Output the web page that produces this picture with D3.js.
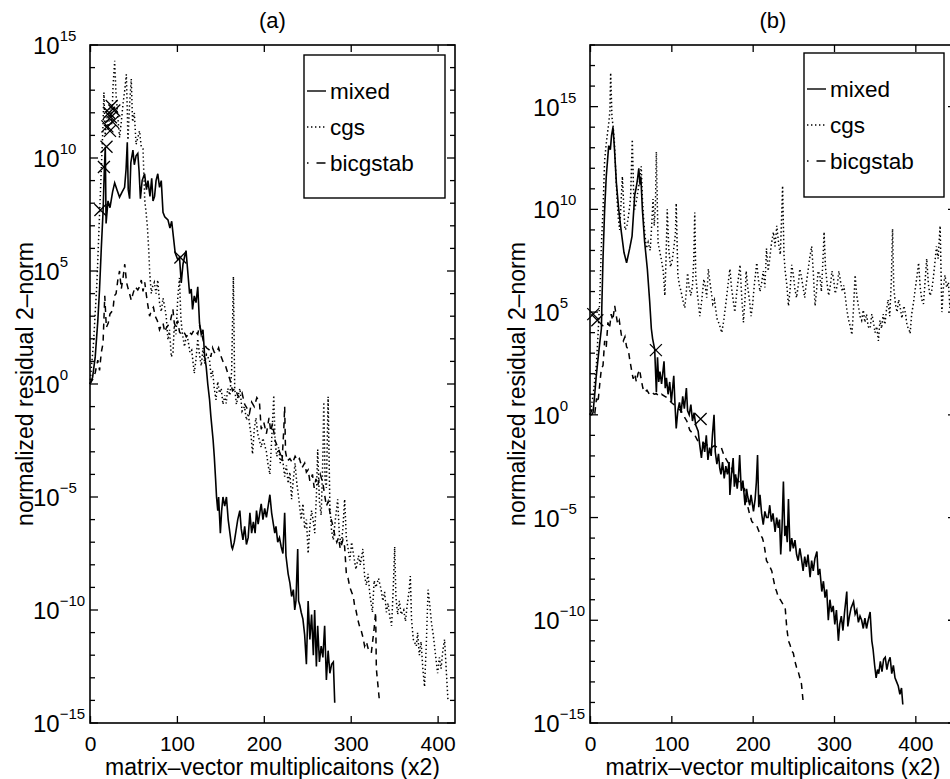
<!DOCTYPE html>
<html>
<head>
<meta charset="utf-8">
<script src="https://cdn.jsdelivr.net/npm/d3@7"></script>
<style>
  body { margin: 0; background: #fff; }
  svg { display: block; }
  text { font-family: "Liberation Sans", Arial, Helvetica, sans-serif; fill: #000; }
</style>
</head>
<body>
<svg id="chart" width="950" height="779"></svg>
<script>
// each point: [matrix-vector products (x2), log10 of normalized residual 2-norm]

// panel (a)
var mixedA = [[0,0],[3,0.3],[6,1.2],[9,2.8],[11,4.2],[13,6.0],[15,7.6],[16.5,9.5],[17.6,10.5],[18.5,7.1],[20.7,8.1],[23,7.8],[26,8.5],[28.4,8.9],[31,8.6],[34,8.27],[37,8.5],[39.8,8.7],[41.5,9.5],[42.9,10.7],[44,8.6],[45.6,8.2],[47,9.8],[49.4,10.35],[51,9.7],[53,10.1],[55,10.2],[56.5,9.4],[58,8.2],[60,9.0],[62.8,9.3],[65,8.6],[66.7,9.0],[69,8.3],[71,9.1],[72.5,8.1],[74.3,8.3],[76,9.0],[78,9.3],[80,8.7],[82,9.0],[84,7.6],[86,7.4],[89.7,7.26],[92,6.9],[94,7.2],[96,6.5],[98,5.8],[101,5.5],[103,5.6],[105,4.47],[107,5.3],[108.8,5.63],[110.5,5.9],[112,5.2],[114.6,4.0],[116.5,4.2],[118,3.3],[120,3.9],[122,3.6],[124,4.3],[126,2.7],[128,2.2],[130,2.4],[132,1.2],[133.7,0.77],[135.5,0.0],[137.6,-0.7],[139,-1.4],[141.7,-2.5],[143,-3.2],[144.5,-4.2],[145.6,-5.0],[147,-5.6],[148,-5.0],[150,-6.6],[151.5,-5.6],[153,-5.0],[155,-5.4],[157,-5.0],[159,-6.0],[161,-6.6],[163,-7.2],[164,-7.3],[166,-7.0],[168,-6.5],[170,-6.0],[172.4,-5.6],[174,-6.4],[176,-6.9],[178,-6.3],[180,-7.1],[182,-6.8],[184,-5.7],[186,-6.6],[188,-6.1],[190,-6.6],[191.6,-5.6],[193.5,-6.2],[195,-5.8],[197,-5.3],[199,-6.0],[201,-5.5],[203,-5.9],[205,-5.4],[207,-4.9],[209,-5.7],[211,-6.2],[212.6,-6.6],[214,-6.3],[216,-7.0],[218,-6.8],[220,-7.2],[222,-7.5],[224,-5.7],[225.5,-7.6],[228,-8.4],[230,-8.8],[232,-9.4],[234,-9.1],[235.6,-10.0],[237,-9.6],[239,-7.3],[240,-9.6],[241.5,-9.8],[243,-10.1],[245,-10.4],[247,-11.1],[249,-12.4],[251,-9.6],[253,-11.3],[255,-10.2],[257,-12.0],[258.5,-10.0],[260.5,-12.5],[262,-10.7],[264,-12.3],[266,-11.6],[268,-12.1],[270,-10.7],[272,-13.1],[274,-11.8],[276,-12.8],[278,-12.4],[280,-12.3],[281.6,-14.1]];

var cgsA = [[0,0],[4,1.8],[8,4.5],[11,7.5],[13.5,10.0],[15,11.5],[16,12.9],[17.5,11.0],[19.5,11.8],[21,11.2],[23,12.2],[25,11.5],[26.5,13.2],[28.4,14.3],[30,12.8],[32,11.8],[34,10.9],[36,11.6],[38,12.4],[40,13.0],[41.8,13.7],[43.7,10.8],[45.5,12.3],[47.5,13.5],[49,11.6],[51,12.0],[53,10.6],[55,10.9],[57,11.2],[59,10.5],[61,10.4],[63,8.1],[64.5,7.6],[66,7.0],[67.8,5.8],[68.6,5.0],[70.5,4.0],[72,4.3],[74,4.5],[76,4.0],[78,4.6],[80,3.6],[82,3.2],[84,3.8],[86,3.4],[87.7,3.0],[89.7,1.95],[91.5,2.4],[93.5,1.2],[95.5,1.4],[97,2.6],[99,2.2],[101,3.8],[103,4.7],[104.5,3.0],[106,2.3],[108.8,1.65],[111,2.2],[113,1.9],[115,1.4],[117,1.5],[120,0.47],[122,1.1],[124,2.0],[126,1.3],[128,0.8],[130,1.6],[132,0.9],[134,1.3],[137.5,1.06],[139.5,0.3],[141,0.6],[143,-0.2],[145,-0.7],[147,0.1],[149,-0.4],[151,-0.2],[153,-0.9],[155,-0.5],[156.7,-0.86],[158.5,-0.2],[161,-0.5],[163,0.6],[165,4.75],[166.5,-0.2],[168.5,-0.9],[170.5,-0.5],[172.5,-0.2],[175,-1.2],[177.8,-1.0],[180,-1.6],[182,-1.3],[185.4,-2.3],[187,-3.1],[189,-2.0],[191,-1.5],[193,-2.2],[195,-2.5],[197,-2.8],[199,-2.4],[201,-2.7],[203,-3.0],[205,-3.6],[207,-4.0],[209,-2.5],[211.5,-0.5],[213,-2.6],[215,-3.2],[217,-2.8],[219,-3.5],[221,-3.1],[224,-4.1],[226,-3.6],[228,-4.4],[230,-3.9],[232,-5.1],[234,-4.2],[236,-3.5],[238,-4.4],[240,-5.0],[243,-6.0],[245,-5.3],[247,-6.4],[249,-6.0],[251,-7.5],[253,-6.3],[255,-5.6],[257,-6.1],[258.6,-6.6],[260.5,-5.0],[262,-2.9],[264,-5.2],[266,-5.8],[267.5,-4.0],[269,-0.8],[270.5,-4.3],[272,-4.6],[274,-0.56],[276,-5.4],[278,-6.5],[280,-6.9],[282,-6.1],[285,-5.1],[287,-6.7],[289,-7.1],[291,-6.4],[293,-5.1],[295,-6.8],[297,-7.3],[299,-7.8],[301,-7.0],[303,-7.5],[306,-8.2],[309,-7.6],[311,-8.0],[314,-7.3],[316,-8.5],[318,-8.9],[320,-8.4],[322,-9.3],[325,-10.1],[327,-8.7],[329,-9.0],[332,-8.6],[335,-9.1],[337,-9.6],[339,-9.2],[341,-10.1],[343,-9.7],[345,-10.3],[347,-10.7],[349,-9.0],[350.6,-7.2],[352,-9.4],[354,-10.2],[356,-9.6],[358,-10.2],[361,-10.0],[363,-10.5],[365,-9.8],[367,-9.2],[368.6,-8.5],[370,-10.4],[372,-11.3],[375.5,-11.6],[377,-11.0],[379,-12.0],[381,-11.4],[383,-12.6],[385,-13.4],[387,-11.5],[389,-9.1],[391,-9.8],[393,-10.6],[395,-11.1],[397,-11.8],[400,-12.8],[402,-12.1],[404,-12.6],[406,-11.8],[408,-11.3],[410,-12.7],[412,-14.05]];

var bicgA = [[0,0],[3,0.2],[6,0.5],[9,1.06],[11,0.6],[13,1.4],[15,1.8],[17,3.9],[18.8,2.5],[21,2.7],[23,3.1],[26.4,3.27],[28,3.9],[30,4.0],[32,4.6],[34,5.0],[36,4.2],[38,4.7],[40,5.3],[42,4.5],[44,4.2],[45.5,4.0],[47.5,3.7],[49.5,4.0],[52,4.3],[55,4.16],[57,4.3],[59,4.6],[61,4.1],[63,4.5],[65,3.9],[66.5,3.5],[68.6,3.0],[71,3.3],[73,3.4],[75,3.0],[77.5,2.8],[80,2.4],[82,2.6],[84,2.7],[86,2.3],[88,2.5],[90,2.6],[92,2.7],[95.4,3.3],[97,2.7],[99,2.5],[101,2.8],[103,2.3],[105,2.2],[108,2.3],[111,2.1],[114,2.3],[117,2.2],[120,2.4],[124,2.2],[126,2.6],[128,2.3],[131,1.8],[134,1.6],[137.6,1.5],[139,1.2],[141,1.6],[143,1.4],[145,1.35],[148,1.6],[150,1.3],[153,1.0],[156,0.8],[158.6,0.47],[161,0.2],[164,-0.3],[167,-0.2],[170,-0.5],[172,-0.6],[175,-0.4],[178,-0.9],[181,-1.1],[183.5,-1.3],[186,-0.8],[189,-1.0],[192,-0.6],[195,-0.8],[197,-2.0],[200,-1.7],[203,-2.2],[206,-1.5],[208,-2.1],[210,-1.74],[213,-2.5],[216,-2.8],[219,-3.1],[221,-3.4],[223,-2.0],[224,-1.0],[225,-3.0],[227,-3.4],[230,-3.3],[233,-3.5],[236,-3.2],[239,-3.4],[241,-3.3],[244,-3.7],[247,-3.5],[249,-3.9],[251,-3.8],[253,-4.3],[256,-4.0],[258,-4.6],[260,-4.2],[262,-4.5],[265,-4.0],[268,-4.4],[270,-4.9],[272,-5.4],[274,-5.2],[277,-5.9],[279,-6.2],[282,-6.75],[284,-7.0],[286,-6.8],[288,-7.3],[291,-6.9],[293,-7.2],[295,-8.4],[297,-8.6],[299,-9.0],[301,-9.2],[303,-9.4],[304.6,-9.85],[306,-10.0],[308,-10.4],[310,-10.7],[312,-10.9],[314,-11.2],[316,-11.6],[318,-11.4],[320,-11.7],[323.7,-11.9],[325.5,-11.3],[327,-10.8],[328.7,-10.1],[329.5,-12.6],[331,-13.2],[333,-14.0]];

// switch points of the mixed method (x markers)
var markA = [[12,7.7],[16,9.6],[19,10.5],[20,11.4],[22,12.0],[23,11.2],[24,11.8],[25,12.3],[26,11.6],[28,12.1],[104,5.6]];

// panel (b)
var mixedB = [[0,0],[2,0],[3.7,0.1],[5.7,0.95],[7.5,1.8],[9.8,2.7],[12,3.5],[14,4.2],[14.5,5.2],[16,7.6],[18,10.0],[20,11.6],[23,13.1],[25,12.9],[26.5,13.6],[28.3,14.0],[30,13.0],[32.4,11.3],[35.3,10.0],[38.5,8.9],[41.8,7.9],[45,7.4],[48.8,8.1],[51.7,8.7],[55,10.7],[57,11.1],[58.5,11.5],[60,12.0],[61.5,11.2],[62.5,11.6],[64.4,10.0],[67.2,8.4],[70.5,7.1],[73.4,5.5],[75.4,4.2],[77,3.7],[79.5,3.2],[80.5,2.2],[81.6,1.1],[83,2.8],[84.5,1.6],[86,2.1],[88,1.5],[91,2.6],[92.5,1.3],[94,1.8],[96,1.0],[98,1.6],[100,0.63],[103,1.9],[104.5,0.5],[106,-0.66],[108,0.2],[110,0.6],[112,0.1],[114,0.9],[116,0.3],[118.5,1.3],[120,0.2],[122,0.0],[124,0.5],[126,-0.3],[128,0.1],[130,-0.5],[133,-0.8],[135,-1.5],[137,-2.1],[139,-1.3],[141,-1.8],[143,-1.0],[145,-2.2],[147,-1.6],[149,-2.0],[150.5,-1.0],[152.5,0.0],[154,-1.8],[156,-2.4],[158,-1.9],[159.5,-2.6],[161,-2.9],[163,-2.3],[165,-3.1],[167,-2.5],[169,-2.9],[171,-2.3],[172,-3.9],[174,-2.9],[176,-2.1],[177.5,-3.5],[179,-2.9],[181,-3.6],[182.5,-3.0],[184,-1.96],[186,-3.7],[188,-3.2],[190.6,-4.4],[192.5,-3.6],[194,-4.0],[196.4,-4.4],[198,-3.9],[201,-4.7],[203,-4.1],[204.5,-3.3],[206,-1.96],[207.5,-4.5],[209,-3.9],[211,-4.8],[213,-5.35],[215,-4.7],[217,-5.0],[219,-5.0],[221,-4.4],[223,-5.2],[225,-4.8],[227.6,-5.7],[229.5,-5.0],[231.5,-5.5],[233,-5.1],[234.5,-6.8],[236,-5.6],[237.8,-3.25],[239.5,-5.9],[241,-5.4],[242.5,-6.2],[244,-4.1],[246,-6.65],[248,-6.0],[250,-6.5],[252,-6.1],[254,-6.8],[256,-7.1],[258,-6.5],[260,-7.0],[262,-7.6],[264,-6.9],[266,-7.4],[268,-6.8],[270.6,-7.9],[272.5,-7.1],[274.5,-7.6],[276.5,-7.0],[279,-6.65],[280.5,-7.8],[282.5,-7.5],[285,-8.6],[287,-8.1],[289,-8.9],[291,-8.5],[293,-10.0],[295,-9.0],[297,-9.6],[299,-9.3],[301,-10.2],[303,-9.5],[305.4,-11.0],[307,-10.2],[309,-9.8],[311,-10.5],[313,-9.6],[315.7,-8.6],[317,-10.3],[319,-9.8],[321,-9.4],[324,-9.1],[326,-9.7],[328,-9.5],[330,-10.1],[332,-9.8],[334,-10.0],[336,-10.4],[338,-9.9],[340,-10.4],[342,-10.0],[344.4,-9.6],[346.5,-11.0],[348,-11.4],[350,-12.2],[351.8,-12.8],[353.5,-12.4],[355,-12.6],[357,-12.0],[359,-12.5],[361,-11.9],[363,-11.8],[365,-12.4],[367,-12.0],[369,-11.8],[371,-12.6],[373,-12.2],[375,-12.8],[377,-13.0],[379,-13.2],[381,-13.6],[383,-13.3],[384.6,-14.1]];

var cgsB = [[0,0],[4,1.0],[8,2.5],[10,4.0],[12,5.6],[14,8.3],[16,10.0],[18,12.4],[20,13.2],[23,14.2],[24.5,14.8],[25.4,16.65],[27,14.5],[28.5,14.0],[30,13.25],[32,11.5],[33.6,10.3],[35,9.5],[36.5,9.0],[38,10.2],[39.8,11.6],[41.5,10.2],[43,9.0],[45,9.1],[47,9.6],[49,10.2],[50,10.7],[52,13.4],[53.5,11.0],[55,10.0],[57,10.4],[59,10.9],[61,11.4],[63,12.1],[64.5,10.5],[66,9.5],[67.5,8.8],[69.3,8.1],[71.5,8.4],[74,8.0],[76,9.3],[77.5,10.5],[79,9.2],[80.5,10.2],[81.6,12.8],[83.6,8.4],[85.5,8.0],[88,7.5],[90,7.0],[92,5.8],[93.5,7.6],[95,10.0],[97,8.0],[99,7.2],[101,7.5],[103,8.1],[105,8.8],[106,10.3],[108,6.8],[110,6.3],[112,6.0],[114,5.6],[116.5,5.2],[118.5,6.0],[120,6.9],[122,6.2],[124,5.8],[126,6.3],[127.5,7.5],[128.8,9.85],[130,6.8],[132,5.9],[135,4.8],[137.5,5.6],[140,6.6],[142,6.2],[143.5,5.7],[145.5,7.1],[147,6.6],[149,6.0],[151,5.4],[153,5.6],[156,4.7],[159,4.4],[162,4.0],[164.5,4.6],[167,5.4],[169,6.1],[172,7.1],[174,6.2],[176,5.6],[178,5.0],[180,5.8],[182,6.5],[184.5,7.3],[186.5,5.8],[188.6,4.5],[190.5,5.6],[192,7.0],[194,6.2],[196,5.6],[198,4.8],[200,5.4],[202,6.3],[205,7.4],[207,6.6],[209,6.0],[211,6.4],[213,7.0],[215,6.2],[217,8.1],[219,7.0],[221,7.6],[223,8.3],[225.5,8.9],[227.5,8.2],[229.6,9.2],[232,8.3],[234,7.8],[235.5,9.5],[236.8,11.15],[238.5,7.8],[240,7.0],[242,6.3],[244,5.3],[246,6.1],[248,7.3],[250,6.8],[252,6.1],[254,5.7],[256,6.3],[258,7.1],[260,6.7],[262,6.2],[264,5.7],[266,6.4],[268,7.0],[270,7.6],[272.6,8.2],[274.5,7.0],[276.7,5.3],[278.5,6.0],[280.5,7.0],[282.5,6.8],[284.5,6.0],[286.5,7.6],[287.8,8.9],[289.5,7.2],[291.5,6.4],[293.5,5.8],[295.5,6.3],[297.5,7.0],[299.5,6.6],[301.5,5.9],[304,6.3],[306,7.0],[308,6.5],[310,6.0],[312,6.3],[313.7,5.8],[315.5,5.2],[317.5,4.7],[320,4.3],[322,3.9],[324,5.2],[326,6.8],[328,5.8],[330,5.3],[332,4.8],[334,4.6],[336,5.1],[338,4.5],[340,4.9],[342,4.3],[344.4,4.2],[346.5,4.9],[348.5,4.5],[350.5,4.0],[352.5,4.3],[354.6,3.6],[356.5,4.6],[358.5,4.2],[360.5,4.9],[362.5,4.4],[364.5,5.1],[366.5,5.6],[368.5,4.8],[370.5,6.5],[372,9.05],[373.5,6.2],[375.5,5.4],[377.5,5.0],[379.5,5.6],[381.5,5.2],[383.5,4.7],[386,5.3],[388,4.9],[390,4.3],[392,4.2],[393.6,3.95],[395.5,4.9],[397.5,5.4],[399.5,6.0],[401.5,6.6],[404,7.4],[406,6.2],[408,5.6],[410,5.4],[412,6.5],[414,7.6],[416,6.4],[418,5.8],[420,6.0],[422,6.6],[424,7.4],[426,8.2],[428,7.6],[430.5,9.2],[432.6,5.0],[434.5,6.2],[436.5,6.8],[438.5,6.2],[440.7,6.45],[442.5,5.2],[444.5,6.0],[447,7.0],[449,6.4]];

var bicgB = [[0,0],[3,0.3],[6,0.1],[8,0.8],[9.8,0.6],[12,1.5],[14,2.25],[16,2.4],[18,3.6],[20,3.3],[22,4.5],[24,4.2],[26,4.9],[28,4.6],[30.4,5.3],[32,4.9],[34,4.4],[36,4.6],[38.5,3.9],[41,3.6],[43,3.8],[45,3.3],[47,3.2],[48.8,2.7],[51,2.2],[53,1.76],[55,2.0],[57,1.6],[59,2.0],[61,2.2],[63,1.7],[65,1.3],[67,1.1],[70,1.2],[73,1.0],[76,1.1],[79,1.0],[81.6,1.03],[85,0.9],[88,1.0],[92,0.9],[96,0.8],[100,0.6],[104,0.47],[108,0.3],[112,0.2],[116,-0.1],[119,-0.3],[122.6,-0.74],[126,-0.9],[129,-1.0],[133,-1.3],[137,-1.4],[141,-1.4],[145,-1.5],[149,-1.6],[153,-1.5],[157,-1.6],[161.5,-1.6],[165,-2.0],[168,-2.2],[171,-2.4],[174,-2.6],[177,-2.9],[180,-3.1],[184,-3.3],[187,-3.5],[190,-3.6],[193,-4.3],[196,-4.8],[199,-5.2],[202,-5.3],[205,-5.4],[209,-5.8],[212,-6.0],[214,-6.3],[217,-7.1],[220,-7.3],[223.5,-7.6],[225.5,-8.0],[227.6,-8.4],[229.5,-8.6],[231.6,-8.9],[234,-9.0],[237,-9.2],[240,-9.4],[242,-10.4],[244,-11.0],[246,-11.2],[248,-11.5],[250,-11.6],[252,-12.0],[254,-12.3],[256,-12.5],[258,-12.8],[260,-13.1],[262.4,-14.1]];

var markB = [[4,4.9],[9,4.6],[81,3.15],[136,-0.2]];

// ticks and labels
var xTickVals = [0, 100, 200, 300, 400];
var yLabelExpA = [-15, -10, -5, 0, 5, 10, 15];
var yLabelExpB = [-15, -10, -5, 0, 5, 10, 15];
var seriesNames = ["mixed", "cgs", "bicgstab"];
var panelTitles = ["(a)", "(b)"];
var xLabel = "matrix\u2013vector multiplicaitons (x2)";
var yLabel = "normalized residual 2\u2013norm";

var dashes = { mixed: null, cgs: "1.4,2.6", bicgstab: "6,5" };

var svg = d3.select("#chart");

function drawPanel(p) {
  var x = d3.scaleLinear().domain([0, p.xMax]).range([p.left, p.right]);
  var y = d3.scaleLog().domain([1e-15, Math.pow(10, p.yMaxExp)]).range([p.bottom, p.top]);
  var g = svg.append("g");

  var line = d3.line()
    .x(function(d) { return x(d[0]); })
    .y(function(d) { return y(Math.pow(10, d[1])); });

  // series
  p.series.forEach(function(s, i) {
    g.append("path")
      .datum(s)
      .attr("d", line)
      .attr("fill", "none")
      .attr("stroke", "#000")
      .attr("stroke-width", seriesNames[i] == "mixed" ? 1.6 : 1.5)
      .attr("stroke-dasharray", dashes[seriesNames[i]]);
  });

  // switch markers
  g.selectAll(".mk").data(p.markers).enter().append("path")
    .attr("class", "mk")
    .attr("d", function(d) {
      var cx = x(d[0]), cy = y(Math.pow(10, d[1])), r = 6;
      return "M" + (cx - r) + "," + (cy - r) + "L" + (cx + r) + "," + (cy + r) +
             "M" + (cx - r) + "," + (cy + r) + "L" + (cx + r) + "," + (cy - r);
    })
    .attr("stroke", "#000")
    .attr("stroke-width", 1.3)
    .attr("fill", "none");

  // ticks on all four sides, pointing inside
  var decades = d3.range(-15, p.yMaxExp + 1);
  decades.forEach(function(e) {
    var len = p.yLabels.indexOf(e) >= 0 ? 8 : 5;
    var yy = y(Math.pow(10, e));
    g.append("line").attr("x1", p.left).attr("x2", p.left + len).attr("y1", yy).attr("y2", yy)
      .attr("stroke", "#000").attr("stroke-width", 1.3);
    g.append("line").attr("x1", p.right).attr("x2", p.right - len).attr("y1", yy).attr("y2", yy)
      .attr("stroke", "#000").attr("stroke-width", 1.3);
  });

  var xAxis = d3.axisBottom(x).tickValues(xTickVals).tickSizeInner(-7).tickSizeOuter(0).tickPadding(13);
  var xg = g.append("g").attr("transform", "translate(0," + p.bottom + ")").call(xAxis);
  xg.select(".domain").remove();
  xg.selectAll("text").style("font-size", "21px").attr("fill", "#000");
  xg.selectAll(".tick line").attr("stroke-width", 1.3);

  var topAxis = d3.axisTop(x).tickValues(xTickVals).tickSizeInner(-7).tickSizeOuter(0).tickFormat("");
  var tg = g.append("g").attr("transform", "translate(0," + p.top + ")").call(topAxis);
  tg.select(".domain").remove();
  tg.selectAll(".tick line").attr("stroke-width", 1.3);

  // y tick labels 10^e
  p.yLabels.forEach(function(e) {
    var yy = y(Math.pow(10, e));
    var t = g.append("text").attr("x", p.left - 57).attr("y", yy + 9).style("font-size", "24px");
    t.append("tspan").text("10");
    t.append("tspan").attr("dy", -13).style("font-size", "15px")
      .text(e < 0 ? "\u2212" + Math.abs(e) : String(e));
  });

  // frame
  g.append("rect")
    .attr("x", p.left).attr("y", p.top)
    .attr("width", p.right - p.left).attr("height", p.bottom - p.top)
    .attr("fill", "none").attr("stroke", "#000").attr("stroke-width", 1.6);

  // title and axis labels
  var cx = (p.left + p.right) / 2;
  g.append("text").attr("x", cx).attr("y", 28).attr("text-anchor", "middle")
    .style("font-size", "22px").text(p.title);
  g.append("text").attr("x", cx).attr("y", 775).attr("text-anchor", "middle")
    .style("font-size", "23px").text(xLabel);
  g.append("text")
    .attr("transform", "translate(" + p.yLabelX + "," + ((p.top + p.bottom) / 2) + ") rotate(-90)")
    .attr("text-anchor", "middle").style("font-size", "23px").text(yLabel);

  // legend
  var L = p.legend;
  var lg = g.append("g");
  lg.append("rect").attr("x", L.x).attr("y", L.y).attr("width", L.w).attr("height", L.h)
    .attr("fill", "#fff").attr("stroke", "#000").attr("stroke-width", 1.4);
  seriesNames.forEach(function(name, i) {
    var ly = L.y + 36 + i * 36;
    lg.append("line")
      .attr("x1", L.x + 3).attr("x2", L.x + 22).attr("y1", ly).attr("y2", ly)
      .attr("stroke", "#000").attr("stroke-width", 1.4)
      .attr("stroke-dasharray", name == "bicgstab" ? "1.5,8,9" : dashes[name]);
    lg.append("text").attr("x", L.x + 26).attr("y", ly + 8)
      .style("font-size", "22.5px").text(name);
  });
}

drawPanel({
  left: 90, right: 455, top: 45, bottom: 723,
  xMax: 420, yMaxExp: 15,
  series: [mixedA, cgsA, bicgA], markers: markA,
  yLabels: yLabelExpA, title: panelTitles[0], yLabelX: 33,
  legend: { x: 304, y: 55, w: 141, h: 143 }
});

drawPanel({
  left: 590, right: 956, top: 45, bottom: 723,
  xMax: 450, yMaxExp: 18,
  series: [mixedB, cgsB, bicgB], markers: markB,
  yLabels: yLabelExpB, title: panelTitles[1], yLabelX: 525,
  legend: { x: 804, y: 53, w: 140, h: 144 }
});
</script>
</body>
</html>
